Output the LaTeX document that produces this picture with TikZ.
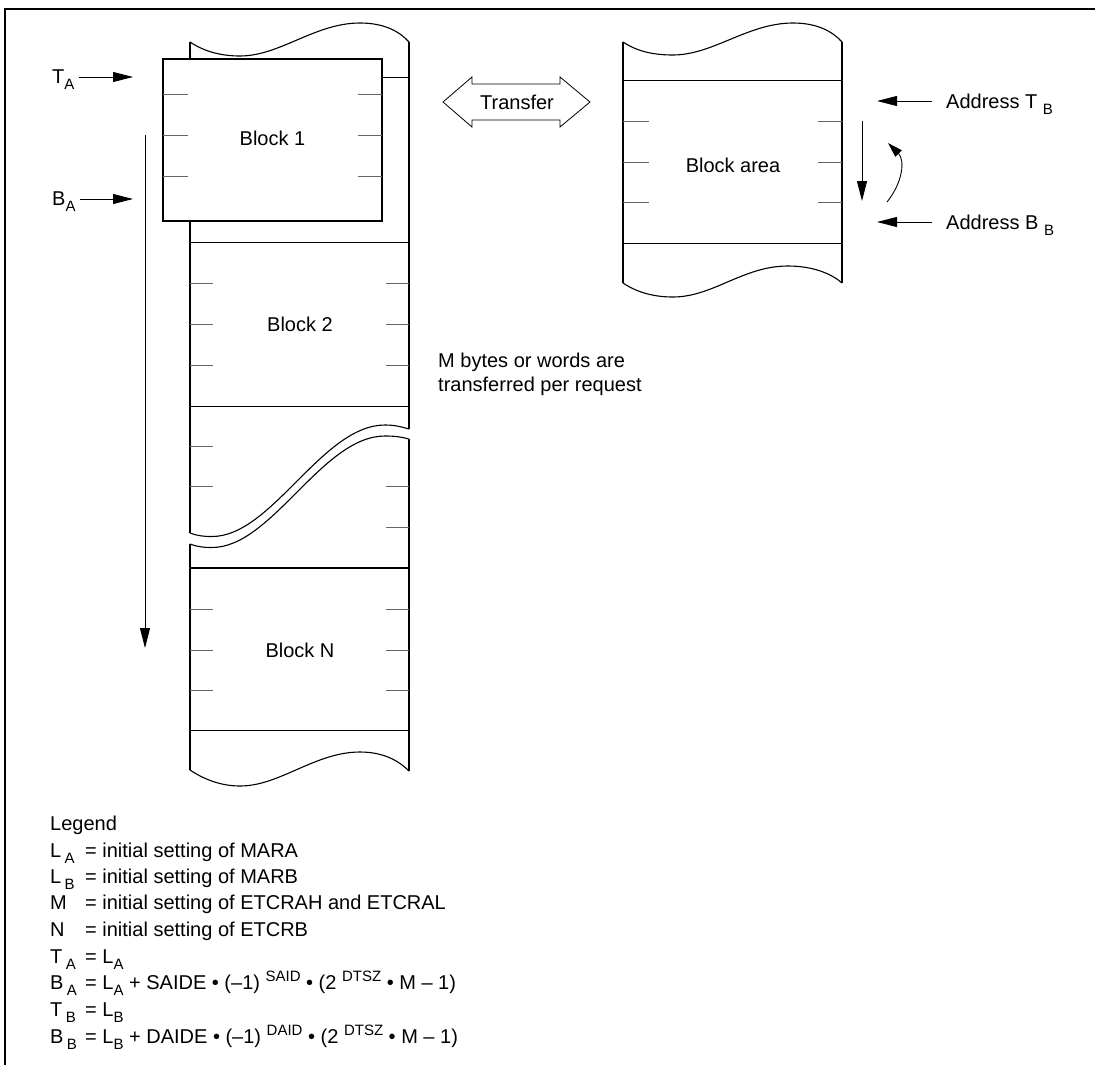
\documentclass[tikz,border=0pt]{standalone}
\usepackage{fontspec}
\setmainfont{Liberation Sans}
\usetikzlibrary{arrows.meta}
\newcommand{\subx}[1]{\raisebox{-6.5pt}{\fontsize{15pt}{15pt}\selectfont #1}}
\newcommand{\supx}[1]{\raisebox{8pt}{\fontsize{15pt}{15pt}\selectfont #1}}
\begin{document}
\begin{tikzpicture}[x=1pt,y=-1pt,
  every node/.style={font=\fontsize{20pt}{24pt}\selectfont, inner sep=0pt},
  outline/.style={line width=1.1pt},
  hline/.style={line width=0.9pt},
  tick/.style={line width=0.9pt, black!60},
  arr/.style={line width=0.9pt, -{Triangle[length=20pt,width=10pt]}},
  lbl/.style={anchor=base west}]
\useasboundingbox (0,0) rectangle (1095,1065);
% frame
\draw[line width=2pt] (5,1065) -- (5,9) -- (1095,9);

% ---------- left column ----------
\begin{scope}[shift={(190,42)}]
\draw[outline] (0,0) .. controls (15,10) and (32,14) .. (50,14) .. controls (90,14) and (125,-19) .. (170,-19) .. controls (195,-19) and (210,-10) .. (219,0);
\end{scope}
\begin{scope}[shift={(190,770)}]
\draw[outline] (0,0) .. controls (15,10) and (32,16) .. (50,16) .. controls (90,16) and (125,-18) .. (170,-18) .. controls (195,-18) and (210,-8) .. (219,1);
\end{scope}
\draw[outline] (190,42) -- (190,533);
\draw[outline] (190,544) -- (190,770);
\draw[outline] (409,42) -- (409,429);
\draw[outline] (409,439) -- (409,771);
% break curves
\draw[outline] (190,533) .. controls (198,536) and (204,536.5) .. (212,536.5) .. controls (272,536.5) and (322,425) .. (385,425) .. controls (395,425) and (402,427) .. (409,429);
\draw[outline] (190,544) .. controls (198,547) and (204,547.5) .. (212,547.5) .. controls (272,547.5) and (322,436) .. (385,436) .. controls (395,436) and (402,437) .. (409,439);
% horizontal lines
\draw[hline] (190,77) -- (409,77);
\draw[hline] (190,242) -- (409,242);
\draw[hline] (190,406) -- (409,406);
\draw[line width=1.4pt] (190,568) -- (409,568);
\draw[hline] (190,730) -- (409,730);
% ticks
\foreach \y in {283,324,365,609,650,690} {
  \draw[tick] (190,\y) -- (213,\y);
  \draw[tick] (386,\y) -- (409,\y);
}
\foreach \y in {446,486} \draw[tick] (190,\y) -- (213,\y);
\foreach \y in {486,527} \draw[tick] (386,\y) -- (409,\y);

% block 1 box
\draw[outline, fill=white] (163,59) rectangle (382,221);
\foreach \y in {94,135,176} {
  \draw[tick] (163,\y) -- (188,\y);
  \draw[tick] (358,\y) -- (382,\y);
}
\node[lbl, anchor=base] (b1) at (272.5,145) {Block 1};
\node[lbl, anchor=base] (b2) at (300,331) {Block 2};
\node[lbl, anchor=base] (bn) at (300,657) {Block N};

% T_A, B_A arrows
\node[lbl] (ta) at (52,83) {T\subx{A}};
\node[lbl] (ba) at (52,205) {B\subx{A}};
\coordinate (tae) at (133,77);
\coordinate (bae) at (133,199);
\draw[arr] (ta.east |- tae) ++(4,0) coordinate (tas) -- (tae);
\draw[arr] (ba.east |- bae) ++(4,0) coordinate (bas) -- (bae);
% long vertical arrow
\coordinate (vtop) at (145,135);
\coordinate (vbot) at (145,648);
\draw[arr] (vtop) -- (vbot);

% ---------- right column ----------
\begin{scope}[shift={(623,42)}]
\draw[outline] (0,0) .. controls (15,10) and (32,13) .. (50,13) .. controls (90,13) and (125,-19) .. (170,-19) .. controls (195,-19) and (210,-10) .. (219,0);
\end{scope}
\begin{scope}[shift={(623,283)}]
\draw[outline] (0,0) .. controls (15,10) and (32,14) .. (50,14) .. controls (90,14) and (120,-17) .. (165,-17) .. controls (192,-17) and (210,-8) .. (219,0);
\end{scope}
\draw[outline] (623,42) -- (623,283);
\draw[outline] (842,42) -- (842,283);
\draw[hline] (623,80) -- (842,80);
\draw[hline] (623,243) -- (842,243);
\foreach \y in {121,162,202} {
  \draw[tick] (623,\y) -- (649,\y);
  \draw[tick] (818,\y) -- (842,\y);
}
\node[lbl, anchor=base] (ba2) at (733,172) {Block area};

% transfer arrow
\draw[line width=0.8pt] (443,102) -- (472,77) -- (472,84) -- (560,84) -- (560,77) -- (590,102) -- (560,127) -- (560,120) -- (472,120) -- (472,127) -- cycle;
\node (tr) at (517,102) {Transfer};

% address arrows
\node[lbl] (atb) at (946,108) {Address T \subx{B}};
\node[lbl] (abb) at (946,229) {Address B \subx{B}};
\coordinate (ate) at (877,101);
\coordinate (abe) at (877,222);
\draw[arr] (atb.west |- ate) ++(-14,0) -- (ate);
\draw[arr] (abb.west |- abe) ++(-14,0) -- (abe);
% direction arrows
\coordinate (dtop) at (862,121);
\coordinate (dbot) at (862,201);
\draw[arr] (dtop) -- (dbot);
\coordinate (cs) at (887,202);
\coordinate (ce) at (888,143);
\draw[line width=0.9pt, -{Triangle[length=15pt,width=9pt]}] (cs) .. controls (903,182) and (905,160) .. (ce);

% note
\node[lbl] (m1) at (438,367) {M bytes or words are};
\node[lbl] (m2) at (438,391) {transferred per request};

% ---------- legend ----------
\node[lbl] (lg) at (50,830) {Legend};
\node[lbl] (s1) at (50,857) {L\,\subx{A}};
\node[lbl] (e1) at (85,857) {= initial setting of MARA};
\node[lbl] (s2) at (50,883) {L\,\subx{B}};
\node[lbl] (e2) at (85,883) {= initial setting of MARB};
\node[lbl] (s3) at (50,909) {M};
\node[lbl] (e3) at (85,909) {= initial setting of ETCRAH and ETCRAL};
\node[lbl] (s4) at (50,936) {N};
\node[lbl] (e4) at (85,936) {= initial setting of ETCRB};
\node[lbl] (s5) at (50,963) {T\,\subx{A}};
\node[lbl] (e5) at (85,963) {= L\subx{A}};
\node[lbl] (s6) at (50,989) {B\,\subx{A}};
\node[lbl] (e6) at (85,989) {= L\subx{A} + SAIDE • (–1) \supx{SAID} • (2 \supx{DTSZ} • M – 1)};
\node[lbl] (s7) at (50,1016) {T\,\subx{B}};
\node[lbl] (e7) at (85,1016) {= L\subx{B}};
\node[lbl] (s8) at (50,1043) {B\,\subx{B}};
\node[lbl] (e8) at (85,1043) {= L\subx{B} + DAIDE • (–1) \supx{DAID} • (2 \supx{DTSZ} • M – 1)};
\end{tikzpicture}
\end{document}
